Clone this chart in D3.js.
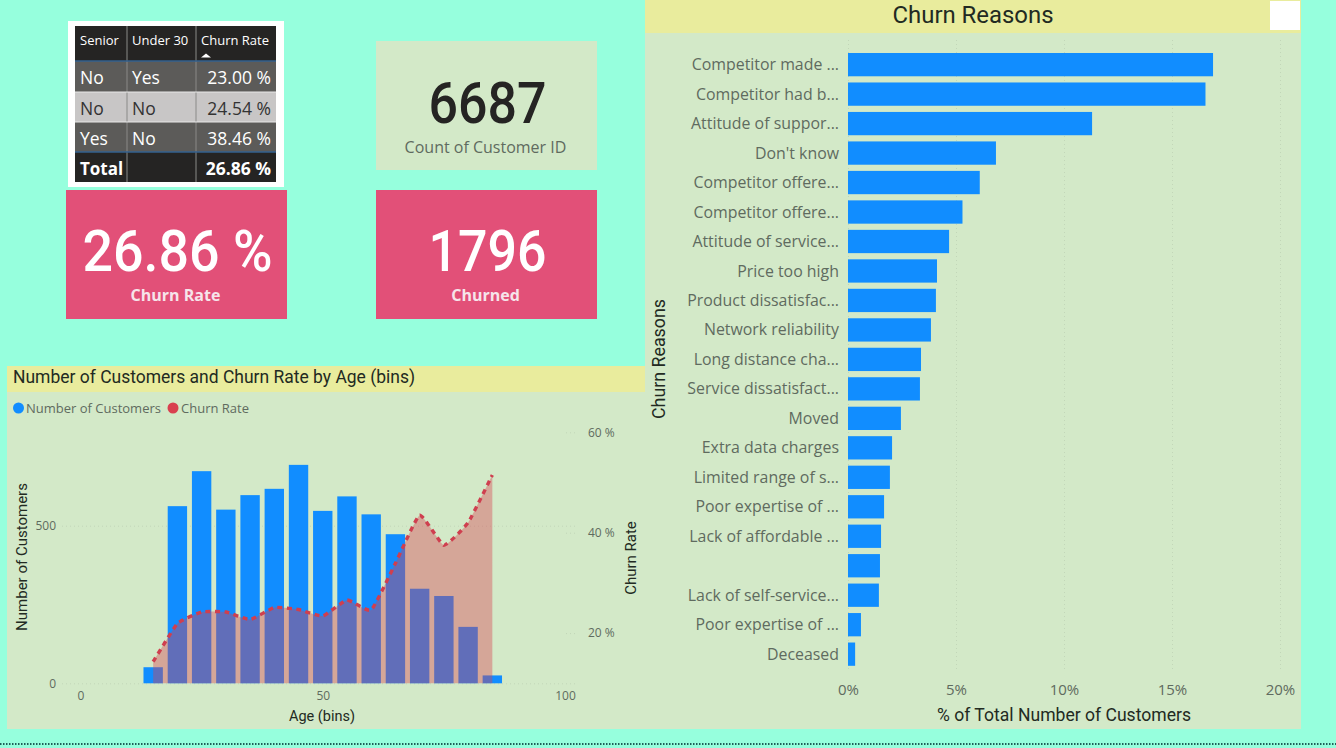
<!DOCTYPE html>
<html>
<head>
<meta charset="utf-8">
<script src="https://cdn.jsdelivr.net/npm/d3@7"></script>
<style>
html, body { margin: 0; padding: 0; background: #96ffdd; overflow: hidden; }
svg { display: block; }
text { font-family: "Open Sans", sans-serif; }
.din { font-family: "Roboto", sans-serif; }
</style>
</head>
<body>
<svg id="chart" width="1336" height="748"></svg>
<script>
// table
const tableHeader = ["Senior", "Under 30", "Churn Rate"];
const tableSenior = ["No", "No", "Yes"];
const tableUnder30 = ["Yes", "No", "No"];
const tableRate = ["23.00 %", "24.54 %", "38.46 %"];
const tableTotal = ["Total", "", "26.86 %"];

// age chart
const ageBins = [15, 20, 25, 30, 35, 40, 45, 50, 55, 60, 65, 70, 75, 80, 85];
const ageCustomers = [51, 562, 673, 551, 597, 617, 693, 547, 593, 536, 473, 300, 277, 179, 25];
const ageChurn = [14.3, 21.9, 24.2, 24.2, 22.7, 25.1, 24.7, 23.4, 26.6, 24.6, 33.9, 43.5, 37.5, 42.0, 51.5];

// reasons chart
const reasons = ["Competitor made ...", "Competitor had b...", "Attitude of suppor...", "Don't know",
	"Competitor offere...", "Competitor offere...", "Attitude of service...", "Price too high",
	"Product dissatisfac...", "Network reliability", "Long distance cha...", "Service dissatisfact...",
	"Moved", "Extra data charges", "Limited range of s...", "Poor expertise of ...",
	"Lack of affordable ...", "", "Lack of self-service...", "Poor expertise of ...", "Deceased"];
const reasonShare = [16.9, 16.55, 11.3, 6.85, 6.1, 5.3, 4.68, 4.12, 4.07, 3.84, 3.38, 3.33, 2.45, 2.04, 1.94, 1.67, 1.53, 1.48, 1.43, 0.6, 0.33];

const PANEL = "#d3e9c8", STRIP = "#e9ec9d", BLUE = "#118dff", RED = "#d9404f", PINK = "#e25078";
const GREY = "#5f6b5f", DARK = "#222a22";

const svg = d3.select("#chart");

// dotted line along the bottom of the page
svg.append("line").attr("x1", 0).attr("x2", 1336).attr("y1", 744).attr("y2", 744)
	.attr("stroke", "#1f5f58").attr("stroke-width", 2).attr("stroke-dasharray", "1.5 1.5");

/***** table *****/
svg.append("rect").attr("x", 68).attr("y", 21).attr("width", 216).attr("height", 166).attr("fill", "#fff");
const colX = [75, 127, 196, 276];
const rowY = [26, 61, 92, 122, 152, 182];
const rowFill = ["#252423", "#5c5b59", "#c8c6c6", "#5c5b59", "#252423"];
const rowText = ["#fff", "#fff", "#333", "#fff", "#fff"];
const tableRows = [tableHeader].concat(tableSenior.map((d, i) => [d, tableUnder30[i], tableRate[i]]), [tableTotal]);

const rows = svg.append("g").selectAll("g").data(tableRows).enter().append("g");
rows.append("rect")
	.attr("x", colX[0]).attr("width", colX[3] - colX[0])
	.attr("y", (d, i) => rowY[i]).attr("height", (d, i) => rowY[i + 1] - rowY[i])
	.attr("fill", (d, i) => rowFill[i]);
rows.selectAll("text").data((d, i) => d.map((t, j) => ({ t: t, j: j, i: i }))).enter().append("text")
	.text(d => d.t)
	.attr("x", d => d.j == 2 && d.i > 0 ? colX[3] - 5 : colX[d.j] + 5)
	.attr("y", d => d.i == 0 ? 45 : rowY[d.i] + 22.5)
	.attr("text-anchor", d => d.j == 2 && d.i > 0 ? "end" : "start")
	.attr("font-size", d => d.i == 0 ? 13 : (d.i == 4 && d.j == 0 ? 17 : 17.5))
	.attr("font-weight", d => d.i == 4 ? 700 : 400)
	.attr("fill", d => rowText[d.i]);
// column and row rules
svg.append("g").selectAll("line").data(colX.slice(1, 3)).enter().append("line")
	.attr("x1", d => d).attr("x2", d => d).attr("y1", rowY[0]).attr("y2", rowY[5])
	.attr("stroke", "#8a8a88").attr("stroke-width", 1);
svg.append("g").selectAll("line").data([rowY[1], rowY[4]]).enter().append("line")
	.attr("x1", colX[0]).attr("x2", colX[3]).attr("y1", d => d).attr("y2", d => d)
	.attr("stroke", "#33608f").attr("stroke-width", 1.5);
svg.append("g").selectAll("line").data([rowY[2], rowY[3]]).enter().append("line")
	.attr("x1", colX[0]).attr("x2", colX[3]).attr("y1", d => d).attr("y2", d => d)
	.attr("stroke", "#e8e8e8").attr("stroke-width", 1);
svg.append("path").attr("d", "M201 57.5 l5 -4 l5 4 z").attr("fill", "#fff");

/***** cards *****/
function card(x, y, w, h, fill, value, label, valueColor, labelColor, labelBold, valueY, labelY, valueLen) {
	svg.append("rect").attr("x", x).attr("y", y).attr("width", w).attr("height", h).attr("fill", fill);
	svg.append("text").attr("class", "din").text(value)
		.attr("x", x + w / 2 + 1).attr("y", valueY).attr("text-anchor", "middle")
		.attr("font-size", 58).attr("font-weight", 500).attr("fill", valueColor)
		.attr("textLength", valueLen).attr("lengthAdjust", "spacingAndGlyphs");
	svg.append("text").text(label)
		.attr("x", x + w / 2 - 1).attr("y", labelY).attr("text-anchor", "middle")
		.attr("font-size", 16).attr("font-weight", labelBold ? 700 : 400).attr("fill", labelColor);
}
card(376, 41, 221, 129, PANEL, "6687", "Count of Customer ID", "#252423", "#5f6b5f", false, 123, 153, 118);
card(66, 190, 221, 129, PINK, "26.86 %", "Churn Rate", "#fff", "#f6e5ea", true, 271, 301, 190);
card(376, 190, 221, 129, PINK, "1796", "Churned", "#fff", "#f6e5ea", true, 271, 301, 118);

/***** age chart *****/
svg.append("rect").attr("x", 7).attr("y", 366).attr("width", 638).attr("height", 363).attr("fill", PANEL);
svg.append("rect").attr("x", 7).attr("y", 366).attr("width", 638).attr("height", 26).attr("fill", STRIP);
svg.append("text").attr("class", "din").text("Number of Customers and Churn Rate by Age (bins)")
	.attr("x", 13).attr("y", 383).attr("font-size", 17.5).attr("fill", DARK)
	.attr("textLength", 402).attr("lengthAdjust", "spacingAndGlyphs");

const ageX = d3.scaleLinear().domain([0, 100]).range([80.5, 565]);
const ageY = d3.scaleLinear().domain([0, 500]).range([683.3, 525.7]);
const churnY = d3.scaleLinear().domain([10, 60]).range([683.3, 432.3]);

function dottedGrid(g) {
	g.select(".domain").remove();
	g.selectAll(".tick line").attr("stroke", "#c2d6b8").attr("stroke-dasharray", "1 3");
	g.selectAll(".tick text").attr("fill", GREY).attr("font-size", 12).style("font-family", '"Open Sans", sans-serif');
}
svg.append("g").attr("transform", "translate(62,0)")
	.call(d3.axisLeft(ageY).tickValues([0, 500]).tickSize(-513).tickPadding(6))
	.call(dottedGrid);
svg.append("g").attr("transform", "translate(575,0)")
	.call(d3.axisRight(churnY).tickValues([20, 40, 60]).tickFormat(d => d + " %").tickSize(-12).tickPadding(13))
	.call(dottedGrid);
svg.append("g").attr("transform", "translate(0,683)")
	.call(d3.axisBottom(ageX).tickValues([0, 50, 100]).tickSize(0).tickPadding(8))
	.call(dottedGrid);

const barW = ageX(2) - ageX(-2);
svg.append("g").selectAll("rect").data(ageBins).enter().append("rect")
	.attr("x", d => ageX(d) - barW / 2)
	.attr("width", barW)
	.attr("y", (d, i) => ageY(ageCustomers[i]))
	.attr("height", (d, i) => ageY(0) - ageY(ageCustomers[i]))
	.attr("fill", BLUE);

const churnPoints = ageBins.map((d, i) => [d, ageChurn[i]]);
const churnCurve = d3.curveCardinal.tension(0.6);
svg.append("path").datum(churnPoints)
	.attr("fill", RED).attr("fill-opacity", 0.4)
	.attr("d", d3.area().curve(churnCurve).x(d => ageX(d[0])).y0(churnY(10)).y1(d => churnY(d[1])));
svg.append("path").datum(churnPoints)
	.attr("fill", "none").attr("stroke", "#cf3f4f").attr("stroke-width", 3.4).attr("stroke-dasharray", "5 4.5")
	.attr("d", d3.line().curve(churnCurve).x(d => ageX(d[0])).y(d => churnY(d[1])));

// legend
svg.append("circle").attr("cx", 18.5).attr("cy", 408).attr("r", 5.5).attr("fill", BLUE);
svg.append("text").text("Number of Customers").attr("x", 26).attr("y", 413).attr("font-size", 13).attr("fill", GREY);
svg.append("circle").attr("cx", 173).attr("cy", 408).attr("r", 5.5).attr("fill", RED);
svg.append("text").text("Churn Rate").attr("x", 181).attr("y", 413).attr("font-size", 13).attr("fill", GREY);

svg.append("text").attr("class", "din").text("Age (bins)").attr("x", 322).attr("y", 721)
	.attr("text-anchor", "middle").attr("font-size", 14.5).attr("fill", DARK);
svg.append("text").attr("class", "din").text("Number of Customers")
	.attr("transform", "translate(27,557) rotate(-90)").attr("text-anchor", "middle").attr("font-size", 15).attr("fill", DARK);
svg.append("text").attr("class", "din").text("Churn Rate")
	.attr("transform", "translate(636,558) rotate(-90)").attr("text-anchor", "middle").attr("font-size", 15).attr("fill", DARK);

/***** reasons chart *****/
svg.append("rect").attr("x", 645).attr("y", 0).attr("width", 656).attr("height", 729).attr("fill", PANEL);
svg.append("rect").attr("x", 645).attr("y", 0).attr("width", 656).attr("height", 33).attr("fill", STRIP);
svg.append("rect").attr("x", 1270).attr("y", 1).attr("width", 30).attr("height", 29).attr("fill", "#fff");
svg.append("text").attr("class", "din").text("Churn Reasons").attr("x", 973).attr("y", 23)
	.attr("text-anchor", "middle").attr("font-size", 24).attr("fill", DARK)
	.attr("textLength", 161).attr("lengthAdjust", "spacingAndGlyphs");

const shareX = d3.scaleLinear().domain([0, 20]).range([848, 1280]);
const reasonY = d3.scaleBand().domain(d3.range(reasons.length)).range([49.9, 668.9]).paddingInner(0.21).paddingOuter(0.105);

svg.append("g").attr("transform", "translate(0,669)")
	.call(d3.axisBottom(shareX).tickValues([0, 5, 10, 15, 20]).tickFormat(d => d + "%").tickSize(-630).tickPadding(15))
	.call(dottedGrid)
	.call(g => g.selectAll(".tick text").attr("font-size", 15));

svg.append("g").selectAll("rect").data(reasonShare).enter().append("rect")
	.attr("x", shareX(0))
	.attr("y", (d, i) => reasonY(i))
	.attr("width", d => shareX(d) - shareX(0))
	.attr("height", reasonY.bandwidth())
	.attr("fill", BLUE);

svg.append("g").selectAll("text").data(reasons).enter().append("text")
	.text(d => d)
	.attr("x", 839)
	.attr("y", (d, i) => reasonY(i) + reasonY.bandwidth() / 2)
	.attr("dy", "0.35em")
	.attr("text-anchor", "end")
	.attr("font-size", 15.9)
	.attr("fill", GREY);

svg.append("text").attr("class", "din").text("% of Total Number of Customers").attr("x", 1064).attr("y", 721)
	.attr("text-anchor", "middle").attr("font-size", 17.5).attr("fill", DARK)
	.attr("textLength", 254).attr("lengthAdjust", "spacingAndGlyphs");
svg.append("text").attr("class", "din").text("Churn Reasons")
	.attr("transform", "translate(665,359) rotate(-90)").attr("text-anchor", "middle").attr("font-size", 17.5).attr("fill", DARK)
	.attr("textLength", 120).attr("lengthAdjust", "spacingAndGlyphs");
</script>
</body>
</html>
